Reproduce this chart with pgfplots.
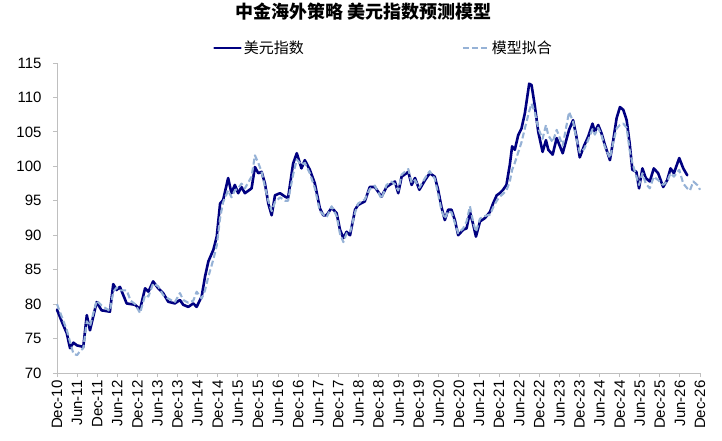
\documentclass[border=0pt]{standalone}
\usepackage{fontspec}
\setmainfont{Liberation Sans}
\newfontfamily\cjk{Noto Sans CJK SC}
\usepackage{pgfplots}
\usepackage{pgfplotstable}
\pgfplotsset{compat=1.18}
\definecolor{navyline}{RGB}{0,0,128}
\definecolor{fitline}{RGB}{150,178,214}
\definecolor{axgray}{RGB}{191,191,191}

\pgfplotstableread{
m v
0 79.2
1.4 77.5
2.9 75.8
3.9 73.6
4.9 74.4
6.0 74.0
6.9 73.9
7.85 73.8
8.9 78.4
9.85 76.2
11.85 80.3
13.3 79.1
15.8 78.9
16.8 82.9
17.8 82.05
18.8 82.5
20.8 80.1
23.3 79.9
24.8 79.25
26.3 82.3
27.3 81.8
28.7 83.3
30.2 82.3
31.7 81.6
33.2 80.35
35.2 80.1
36.7 80.6
37.7 79.9
39.2 79.6
40.7 80.1
41.7 79.6
43.2 81.1
44.2 84.0
45.2 86.2
46.7 87.9
47.7 89.8
48.7 94.6
49.6 95.1
51.1 98.3
52.1 96.1
53.1 97.3
54.1 96.1
55.1 97.0
56.1 96.1
58.1 96.8
59.1 99.9
60.1 99.0
61.1 99.2
62.1 97.5
63.1 94.6
64.1 92.9
65.1 95.8
66.6 96.1
68.1 95.6
69.0 95.4
70.5 100.4
71.6 101.9
73.0 99.7
74.0 100.9
75.5 99.5
77.0 97.5
78.5 93.9
79.5 92.9
80.5 92.9
82.0 94.0
83.5 93.2
84.5 90.8
85.5 89.6
86.5 90.5
87.5 90.0
89.0 93.7
89.9 94.4
91.9 94.9
93.4 97.0
94.9 97.0
96.9 95.6
98.4 97.0
99.9 97.5
100.9 97.8
101.9 96.1
102.9 98.5
104.9 99.2
105.9 97.3
106.9 98.3
108.2 96.6
109.9 98.0
111.3 99.0
112.8 98.5
113.8 96.6
114.8 94.1
115.8 92.2
116.8 93.7
117.8 93.7
118.8 92.2
119.8 90.0
121.3 90.8
122.3 91.0
123.3 93.4
124.3 91.5
125.1 89.8
126.3 92.0
127.8 92.5
129.3 93.4
130.2 94.6
131.3 95.8
132.2 96.1
133.2 96.6
134.2 97.3
135.2 100.2
135.9 102.9
136.7 102.4
137.7 104.5
138.7 105.5
139.7 107.7
141.0 112.0
141.7 111.8
142.7 108.7
143.7 105.0
145.0 102.1
146.0 103.8
146.7 102.4
148.0 101.7
149.2 104.1
151.0 101.9
152.9 105.3
154.1 106.7
155.1 104.3
156.1 101.3
157.4 103.0
158.6 104.3
159.9 106.2
160.6 105.0
161.6 106.0
162.6 104.8
163.6 103.1
165.1 100.9
166.1 103.8
167.1 107.0
168.1 108.6
169.1 108.2
170.1 106.7
171.0 103.3
171.8 99.5
173.0 99.2
173.8 96.8
174.8 99.7
175.8 98.3
177.0 97.8
178.2 99.7
179.5 99.0
181.0 97.0
182.2 98.0
183.2 99.7
184.2 99.0
185.8 101.2
187.0 99.7
188.2 98.7
}\dxy

\pgfplotstableread{
m v
0 80.0
1.4 78.2
2.9 76.3
3.9 74.5
4.9 72.8
6.0 72.6
6.9 73.2
7.85 73.6
8.9 77.5
9.85 76.8
11.85 80.5
13.3 79.8
15.8 79.0
16.8 81.8
17.8 82.4
18.8 82.0
20.8 82.0
22.0 80.5
23.3 80.0
24.8 78.7
26.3 81.3
27.3 81.1
28.7 83.0
30.2 82.6
31.7 81.3
33.2 80.8
35.2 80.3
36.7 81.6
37.7 80.6
39.2 80.2
40.7 80.5
41.7 81.8
43.2 80.8
44.2 82.0
45.2 84.0
46.7 86.5
47.7 88.5
48.7 92.5
49.6 94.8
51.1 96.5
52.1 95.5
53.1 96.5
54.1 96.8
55.1 97.5
56.1 96.8
58.1 98.5
59.1 101.6
60.1 100.5
61.1 99.2
62.1 97.0
63.1 95.0
64.1 93.5
65.1 94.8
66.6 95.5
68.1 95.0
69.0 95.0
70.5 98.8
71.6 101.0
73.0 100.2
74.0 100.5
75.5 99.0
77.0 96.8
78.5 93.5
79.5 93.0
80.5 92.6
82.0 94.2
83.5 92.8
84.5 90.2
85.5 89.0
86.5 90.3
87.5 90.4
89.0 93.3
89.9 94.6
91.9 95.2
93.4 96.7
94.9 97.2
96.9 95.3
98.4 97.3
99.9 97.8
100.9 97.4
101.9 96.5
102.9 98.8
104.9 99.6
105.9 97.6
106.9 98.0
108.2 96.9
109.9 98.3
111.3 99.3
112.8 98.2
113.8 96.0
114.8 93.6
115.8 92.4
116.8 93.5
117.8 93.3
118.8 91.8
119.8 90.3
121.3 91.0
122.3 92.0
123.3 94.2
124.3 91.8
125.1 90.5
126.3 92.4
127.8 92.8
129.3 93.0
130.2 94.0
131.3 95.0
132.2 95.6
133.2 96.0
134.2 96.5
135.2 97.8
135.9 99.5
136.7 100.5
137.7 102.0
138.7 103.5
139.7 105.5
141.0 108.0
141.7 109.1
142.7 107.8
143.7 105.5
145.0 104.0
146.0 106.0
146.7 104.5
148.0 103.5
149.2 105.3
151.0 103.0
152.9 107.9
154.1 106.5
155.1 104.0
156.1 102.0
157.4 102.5
158.6 103.8
159.9 105.4
160.6 104.6
161.6 105.6
162.6 104.5
163.6 102.8
165.1 101.2
166.1 103.5
167.1 105.5
168.1 106.0
169.1 106.2
170.1 105.6
171.0 102.3
171.8 100.5
173.0 98.5
173.8 97.3
174.8 99.0
175.8 97.5
177.0 96.8
178.2 98.5
179.5 98.0
181.0 97.3
182.2 97.8
183.2 99.0
184.2 98.5
185.8 99.5
187.0 97.5
188.2 96.8
189.0 96.5
190.0 97.8
191.4 97.2
192.0 96.6
}\model

\begin{document}
\begin{tikzpicture}
\begin{axis}[
  at={(0pt,0pt)}, anchor=south west,
  scale only axis, width=643pt, height=310pt,
  xmin=0, xmax=192, ymin=70, ymax=115,
  axis x line*=bottom, axis y line*=left,
  axis line style={draw=axgray, line width=0.9pt},
  xtick={0,6,...,192},
  xticklabels={Dec-10,Jun-11,Dec-11,Jun-12,Dec-12,Jun-13,Dec-13,Jun-14,Dec-14,Jun-15,Dec-15,Jun-16,Dec-16,Jun-17,Dec-17,Jun-18,Dec-18,Jun-19,Dec-19,Jun-20,Dec-20,Jun-21,Dec-21,Jun-22,Dec-22,Jun-23,Dec-23,Jun-24,Dec-24,Jun-25,Dec-25,Jun-26,Dec-26},
  ytick={70,75,...,115},
  tick align=outside,
  major tick length=4pt,
  tick style={draw=axgray, line width=0.9pt},
  x tick label style={rotate=90, anchor=east, font=\fontsize{15}{15}\selectfont},
  y tick label style={font=\fontsize{15}{15}\selectfont, xshift=-8pt},
  /pgf/number format/assume math mode=true,
  title={\cjk\bfseries 中金海外策略 美元指数预测模型},
  title style={at={(0.476,1.145)}, anchor=center, font=\fontsize{18}{18}\selectfont},
  legend style={at={(0.2426,1.048)}, anchor=west, draw=none, fill=none,
    inner sep=0pt, font=\cjk\fontsize{15}{15}\selectfont,
    /tikz/every even column/.append style={column sep=156pt}},
  legend columns=2,
  legend image code/.code={\draw[#1] (0pt,0pt) -- (26pt,0pt);},
  clip=false,
]
\addplot[navyline, line width=2.6pt, line join=round, line cap=round] table[x=m,y=v] {\dxy};
\addlegendentry{美元指数}
\addplot[fitline, line width=2.1pt, dash pattern=on 6pt off 3pt, line join=round] table[x=m,y=v] {\model};
\addlegendentry{模型拟合}
\end{axis}
\pgfresetboundingbox
\path (-57pt,-67pt) rectangle (665pt,373pt);
\end{tikzpicture}
\end{document}
